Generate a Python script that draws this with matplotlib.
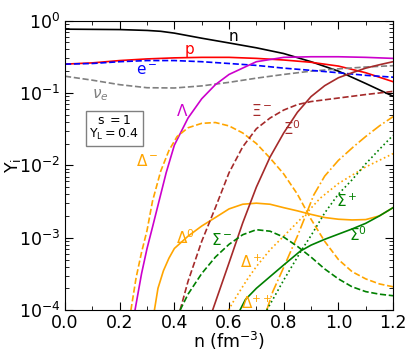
#!/usr/bin/env python3
"""Particle fractions Y_i vs baryon density, s=1, Y_L=0.4."""

import matplotlib
matplotlib.use("Agg")
import matplotlib.pyplot as plt
from matplotlib.ticker import LogLocator, MultipleLocator, NullFormatter

# --- data (x in fm^-3, Y_i) ---
x_n = [0.0, 0.1, 0.2, 0.3, 0.35, 0.4, 0.5, 0.6, 0.7, 0.8, 0.9, 1.0, 1.1, 1.2]
y_n = [0.76, 0.755, 0.75, 0.73, 0.71, 0.67, 0.57, 0.49, 0.42, 0.35, 0.27, 0.2, 0.135, 0.09]

x_p = [0.0, 0.1, 0.2, 0.3, 0.4, 0.5, 0.6, 0.7, 0.8, 0.9, 1.0, 1.1, 1.2]
y_p = [0.25, 0.26, 0.28, 0.295, 0.305, 0.31, 0.31, 0.30, 0.285, 0.265, 0.235, 0.19, 0.143]

x_e = [0.0, 0.1, 0.2, 0.3, 0.4, 0.5, 0.6, 0.7, 0.8, 0.9, 1.0, 1.1, 1.2]
y_e = [0.25, 0.255, 0.27, 0.28, 0.28, 0.27, 0.255, 0.24, 0.22, 0.205, 0.19, 0.175, 0.165]

x_nu = [0.0, 0.1, 0.2, 0.3, 0.4, 0.5, 0.6, 0.7, 0.8, 0.9, 1.0, 1.1, 1.2]
y_nu = [0.17, 0.15, 0.13, 0.118, 0.117, 0.125, 0.14, 0.16, 0.18, 0.2, 0.215, 0.228, 0.238]

x_lam = [0.256, 0.28, 0.30, 0.32, 0.34, 0.37, 0.40, 0.45, 0.50, 0.55, 0.60, 0.70, 0.80, 0.90, 1.0, 1.1, 1.2]
y_lam = [1.0e-4, 3.2e-4, 7.1e-4, 1.4e-3, 2.8e-3, 7.9e-3, 1.9e-2, 4.5e-2, 8.3e-2, 0.13, 0.18, 0.27, 0.31, 0.316, 0.316, 0.31, 0.30]

x_dm = [0.241, 0.26, 0.28, 0.30, 0.32, 0.35, 0.38, 0.41, 0.45, 0.50, 0.55, 0.60, 0.65, 0.70,
        0.75, 0.80, 0.85, 0.90, 0.95, 1.0, 1.05, 1.1, 1.15, 1.2]
y_dm = [1.0e-4, 2.8e-4, 6.3e-4, 1.26e-3, 3.2e-3, 8.3e-3, 1.6e-2, 2.5e-2, 3.3e-2, 3.8e-2, 3.9e-2,
        3.5e-2, 2.8e-2, 2.0e-2, 1.26e-2, 7.6e-3, 4.0e-3, 1.8e-3, 8.9e-4, 5.0e-4, 3.4e-4,
        2.7e-4, 2.3e-4, 2.1e-4]

x_d0 = [0.327, 0.34, 0.36, 0.38, 0.40, 0.45, 0.50, 0.55, 0.60, 0.65, 0.70, 0.75, 0.80,
        0.85, 0.90, 0.95, 1.0, 1.05, 1.1, 1.15, 1.2]
y_d0 = [1.0e-4, 2.0e-4, 3.5e-4, 5.2e-4, 7.1e-4, 1.05e-3, 1.45e-3, 1.9e-3, 2.5e-3, 2.9e-3,
        3.0e-3, 2.9e-3, 2.6e-3, 2.35e-3, 2.1e-3, 1.9e-3, 1.8e-3, 1.76e-3, 1.78e-3, 2.0e-3, 2.6e-3]

x_dp = [0.598, 0.62, 0.665, 0.70, 0.75, 0.80, 0.884, 0.933, 1.0, 1.1, 1.2]
y_dp = [1.0e-4, 1.4e-4, 2.6e-4, 4.0e-4, 6.8e-4, 1.05e-3, 2.2e-3, 3.5e-3, 5.6e-3, 9.5e-3, 1.45e-2]

x_dpp = [0.738, 0.76, 0.80, 0.85, 0.884, 0.91, 0.95, 1.0, 1.055, 1.1, 1.15, 1.2]
y_dpp = [1.0e-4, 1.8e-4, 3.9e-4, 1.05e-3, 2.2e-3, 3.9e-3, 7.1e-3, 1.17e-2, 1.8e-2, 2.5e-2, 3.5e-2, 4.7e-2]

x_xm = [0.421, 0.45, 0.50, 0.55, 0.60, 0.65, 0.70, 0.75, 0.80, 0.85, 0.90, 1.0, 1.1, 1.2]
y_xm = [1.0e-4, 2.5e-4, 8.9e-4, 2.6e-3, 7.9e-3, 1.8e-2, 3.2e-2, 4.5e-2, 5.8e-2, 6.9e-2,
        7.6e-2, 8.5e-2, 9.5e-2, 0.105]

x_x0 = [0.54, 0.60, 0.65, 0.70, 0.75, 0.80, 0.85, 0.90, 0.95, 1.0, 1.05, 1.1, 1.15, 1.2]
y_x0 = [1.0e-4, 4.5e-4, 1.6e-3, 5.0e-3, 1.3e-2, 2.8e-2, 5.4e-2, 8.9e-2, 0.126, 0.162, 0.19,
        0.22, 0.245, 0.27]

x_sm = [0.421, 0.45, 0.50, 0.55, 0.60, 0.65, 0.70, 0.75, 0.80, 0.85, 0.90, 0.95, 1.0,
        1.05, 1.1, 1.15, 1.2]
y_sm = [1.0e-4, 1.66e-4, 3.2e-4, 5.4e-4, 8.1e-4, 1.1e-3, 1.29e-3, 1.23e-3, 1.02e-3, 7.6e-4,
        5.4e-4, 3.7e-4, 2.7e-4, 2.1e-4, 1.8e-4, 1.66e-4, 1.58e-4]

x_s0 = [0.64, 0.66, 0.70, 0.75, 0.80, 0.86, 0.90, 0.95, 1.0, 1.05, 1.1, 1.15, 1.2]
y_s0 = [1.0e-4, 1.4e-4, 2.0e-4, 2.9e-4, 4.2e-4, 6.5e-4, 7.9e-4, 9.5e-4, 1.12e-3, 1.32e-3,
        1.58e-3, 2.0e-3, 2.6e-3]

x_sp = [0.738, 0.76, 0.80, 0.866, 0.90, 0.95, 1.0, 1.05, 1.1, 1.15, 1.2]
y_sp = [1.0e-4, 1.4e-4, 2.6e-4, 6.8e-4, 1.07e-3, 2.2e-3, 4.0e-3, 6.3e-3, 1.05e-2, 1.66e-2, 2.6e-2]

ORANGE = "#ffa500"
BROWN = "#a52a2a"
GREEN = "#008000"
MAGENTA = "#cc00cc"

series = [
    (x_n, y_n, "black", "-"),
    (x_p, y_p, "red", "-"),
    (x_nu, y_nu, "gray", "--"),
    (x_e, y_e, "blue", "--"),
    (x_lam, y_lam, MAGENTA, "-"),
    (x_dm, y_dm, ORANGE, "--"),
    (x_d0, y_d0, ORANGE, "-"),
    (x_dp, y_dp, ORANGE, ":"),
    (x_dpp, y_dpp, ORANGE, "-."),
    (x_xm, y_xm, BROWN, "--"),
    (x_x0, y_x0, BROWN, "-"),
    (x_sm, y_sm, GREEN, "--"),
    (x_s0, y_s0, GREEN, "-"),
    (x_sp, y_sp, GREEN, ":"),
]

labels = [
    ("n", 0.615, 0.60, "black"),
    ("p", 0.455, 0.40, "red"),
    (r"e$^-$", 0.30, 0.205, "blue"),
    (r"$\nu_e$", 0.13, 0.092, "gray"),
    (r"$\Lambda$", 0.43, 0.057, MAGENTA),
    (r"$\Delta^-$", 0.30, 0.0115, ORANGE),
    (r"$\Xi^-$", 0.72, 0.057, BROWN),
    (r"$\Xi^0$", 0.83, 0.032, BROWN),
    (r"$\Delta^0$", 0.44, 0.0010, ORANGE),
    (r"$\Sigma^-$", 0.575, 0.00093, GREEN),
    (r"$\Delta^+$", 0.68, 0.00046, ORANGE),
    (r"$\Delta^{++}$", 0.70, 0.000125, ORANGE),
    (r"$\Sigma^+$", 1.03, 0.0032, GREEN),
    (r"$\Sigma^0$", 1.07, 0.0011, GREEN),
]

plt.rcParams["mathtext.fontset"] = "dejavusans"

fig = plt.figure(figsize=(4.09, 3.54), dpi=100)
ax = fig.add_axes([0.159, 0.124, 0.802, 0.818])

for xs, ys, color, ls in series:
    ax.plot(xs, ys, color=color, linestyle=ls, linewidth=1.2)

for text, lx, ly, color in labels:
    ax.text(lx, ly, text, color=color, fontsize=11, ha="center", va="center")

ax.text(0.18, 0.033, "s $=$1\n" + r"Y$_\mathregular{L}$$=$0.4", fontsize=9,
        ha="center", va="center", linespacing=1.0,
        bbox=dict(boxstyle="square,pad=0.3", facecolor="white", edgecolor="gray"))

ax.set_yscale("log")
ax.set_xlim(0.0, 1.2)
ax.set_ylim(1e-4, 1.0)
ax.xaxis.set_major_locator(MultipleLocator(0.2))
ax.xaxis.set_minor_locator(MultipleLocator(0.1))
ax.yaxis.set_major_locator(LogLocator(base=10))
ax.yaxis.set_minor_locator(LogLocator(base=10, subs=range(2, 10)))
ax.yaxis.set_minor_formatter(NullFormatter())
ax.tick_params(which="both", direction="in", top=True, right=True, labelsize=12.5)
ax.tick_params(axis="x", which="major", pad=2.5)
ax.tick_params(which="major", length=6)
ax.tick_params(which="minor", length=3)

ax.set_xlabel(r"n (fm$^{-3}$)", fontsize=12.5, labelpad=-1)
ax.set_ylabel(r"Y$_\mathregular{i}$", fontsize=12.5, labelpad=-3)

fig.savefig("out.png", dpi=100)
plt.close(fig)
